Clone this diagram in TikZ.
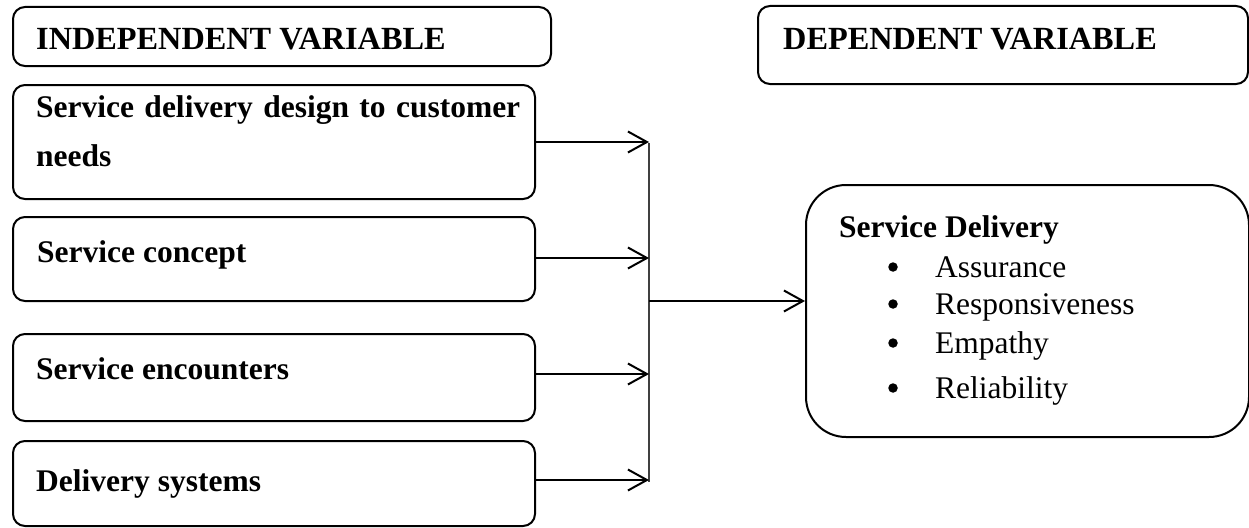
\documentclass[tikz,border=0pt]{standalone}
\usepackage{fontspec}
\setmainfont{Liberation Serif}
\usetikzlibrary{arrows.meta}
\tikzset{
  box/.style={draw, line width=2pt, rounded corners=12pt, anchor=north west, inner sep=0pt},
  bigbox/.style={box, rounded corners=40pt},
  lbl/.style={anchor=base west, inner sep=0pt, font=\fontsize{31.5}{38}\selectfont\bfseries},
  hdr/.style={lbl, font=\fontsize{32.3}{38}\selectfont\bfseries},
  itm/.style={anchor=base west, inner sep=0pt, font=\fontsize{31.5}{38}\selectfont},
  bul/.style={circle, fill=black, inner sep=0pt, minimum size=9.5pt},
  arr/.style={line width=2pt, -{Straight Barb[length=19pt,width=21pt,line width=2pt]}},
  bus/.style={line width=1.3pt, draw=black!75},
}
\begin{document}
\begin{tikzpicture}[x=1pt,y=1pt]
\useasboundingbox (0,0) rectangle (1249,-527);
% boxes
\node[box, minimum width=538pt, minimum height=59pt] (ih) at (12,-6) {};
\node[box, minimum width=490pt, minimum height=78pt] (dh) at (757,-5) {};
\node[box, minimum width=522pt, minimum height=114pt] (b1) at (12,-84) {};
\node[box, minimum width=522pt, minimum height=84pt] (b2) at (12,-216) {};
\node[box, minimum width=522pt, minimum height=87pt] (b3) at (12,-333) {};
\node[box, minimum width=522pt, minimum height=85pt] (b4) at (12,-440) {};
\node[bigbox, minimum width=443pt, minimum height=252pt] (sd) at (805,-184) {};
% texts
\node[hdr] (iht) at (36,-50) {INDEPENDENT VARIABLE};
\node[hdr] (dht) at (783,-50) {DEPENDENT VARIABLE};
\node[lbl] (b1t) at (36,-117.5) {\makebox[484pt][s]{Service delivery design to customer}};
\node[lbl] (b1u) at (36,-166) {needs};
\node[lbl] (b2t) at (37,-262) {Service concept};
\node[lbl] (b3t) at (36,-379) {Service encounters};
\node[lbl] (b4t) at (36,-491) {Delivery systems};
\node[lbl] (sdt) at (839,-237) {Service Delivery};
\node[bul] (u1) at (893,-267) {};
\node[bul] (u2) at (893,-304) {};
\node[bul] (u3) at (893,-343) {};
\node[bul] (u4) at (893,-388) {};
\node[itm] (i1) at (935,-277) {Assurance};
\node[itm] (i2) at (935,-314) {Responsiveness};
\node[itm] (i3) at (935,-353) {Empathy};
\node[itm] (i4) at (935,-398) {Reliability};
% bus
\coordinate (bt) at (649,-143);
\coordinate (bb) at (649,-482);
\coordinate (bm) at (649,-301);
\draw[bus] (bt) -- (bb);
% arrows
\coordinate (a1) at (534,-142);
\coordinate (a2) at (534,-258);
\coordinate (a3) at (534,-374);
\coordinate (a4) at (534,-480);
\draw[arr] (a1) -- (a1 -| bt);
\draw[arr] (a2) -- (a2 -| bt);
\draw[arr] (a3) -- (a3 -| bt);
\draw[arr] (a4) -- (a4 -| bt);
\draw[arr] (bm) -- (sd.west |- bm);
\end{tikzpicture}
\end{document}
